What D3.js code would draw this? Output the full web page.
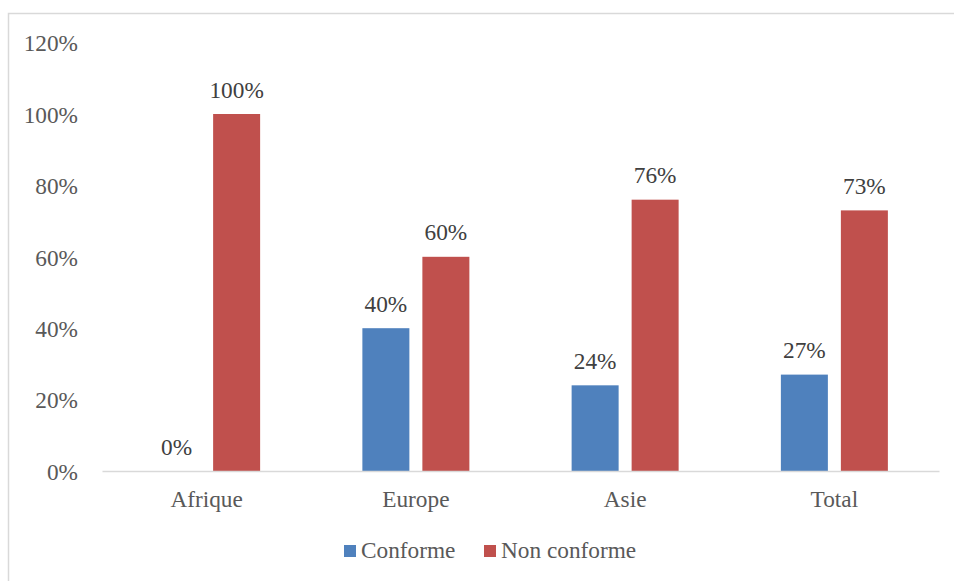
<!DOCTYPE html>
<html>
<head>
<meta charset="utf-8">
<script src="https://cdn.jsdelivr.net/npm/d3@7"></script>
<style>
  html, body { margin: 0; padding: 0; background: #fff; }
  svg { display: block; }
  text { font-family: "Liberation Serif", "Times New Roman", serif; }
</style>
</head>
<body>
<svg id="chart" width="954" height="581"></svg>
<script>
// Regions and compliance shares (%)
const categories = ["Afrique", "Europe", "Asie", "Total"];
const seriesNames = ["Conforme", "Non conforme"];
const conforme = [0, 40, 24, 27];
const nonConforme = [100, 60, 76, 73];
const yTicks = [0, 20, 40, 60, 80, 100, 120];
const colors = ["#4f81bd", "#c0504d"];

const svg = d3.select("#chart");
const W = 954, H = 581;
const FS = "23.3px";
const plotLeft = 102, plotRight = 939, plotTop = 42.6, plotBottom = 471;

// Outer chart frame
svg.append("rect")
  .attr("x", 8.5).attr("y", 13.5)
  .attr("width", W + 20).attr("height", H + 20)
  .attr("fill", "none").attr("stroke", "#d9d9d9").attr("stroke-width", 1.5);

const x = d3.scaleBand().domain(categories).range([plotLeft, plotRight]).padding(0);
const y = d3.scaleLinear().domain([0, 120]).range([plotBottom, plotTop]);

const barW = 47, gap = 13;
const groupW = barW * 2 + gap;
const barX = j => j * (barW + gap);

const data = categories.map((c, i) => ({ cat: c, vals: [conforme[i], nonConforme[i]] }));

// Y axis labels (no line, no ticks)
const yAxis = d3.axisLeft(y).tickValues(yTicks).tickFormat(d => d + "%").tickSize(0).tickPadding(0);
const gy = svg.append("g").attr("transform", "translate(78,0)").call(yAxis);
gy.select(".domain").remove();
gy.selectAll("text")
  .attr("fill", "#595959").attr("font-size", FS)
  .attr("font-family", "Liberation Serif, serif")
  .attr("dy", "0.36em");

// Bars
const groups = svg.append("g").selectAll("g").data(data).join("g")
  .attr("transform", d => `translate(${x(d.cat) + x.bandwidth() / 2 - groupW / 2},0)`);

groups.selectAll("rect").data(d => d.vals.map((v, j) => ({ v, j }))).join("rect")
  .attr("x", d => barX(d.j))
  .attr("y", d => y(d.v))
  .attr("width", barW)
  .attr("height", d => plotBottom - y(d.v))
  .attr("fill", d => colors[d.j]);

// Value labels
groups.selectAll("text").data(d => d.vals.map((v, j) => ({ v, j }))).join("text")
  .attr("x", d => barX(d.j) + barW / 2)
  .attr("y", d => y(d.v) - 16.5)
  .attr("text-anchor", "middle")
  .attr("fill", "#404040").attr("font-size", FS)
  .text(d => d.v + "%");

// X axis
const xAxis = d3.axisBottom(x).tickSize(0).tickPadding(0);
const gx = svg.append("g").attr("transform", `translate(0,${plotBottom})`).call(xAxis);
gx.select(".domain").attr("stroke", "#d9d9d9").attr("stroke-width", 1.5);
gx.selectAll("text")
  .attr("fill", "#595959").attr("font-size", FS)
  .attr("font-family", "Liberation Serif, serif")
  .attr("dy", null).attr("y", 36);

// Legend
const legendItems = [
  { name: seriesNames[0], color: colors[0], x: 344 },
  { name: seriesNames[1], color: colors[1], x: 484 }
];
const lg = svg.append("g");
legendItems.forEach(it => {
  lg.append("rect").attr("x", it.x).attr("y", 545).attr("width", 12).attr("height", 12).attr("fill", it.color);
  lg.append("text").attr("x", it.x + 17).attr("y", 558)
    .attr("fill", "#595959").attr("font-size", FS).text(it.name);
});
</script>
</body>
</html>
